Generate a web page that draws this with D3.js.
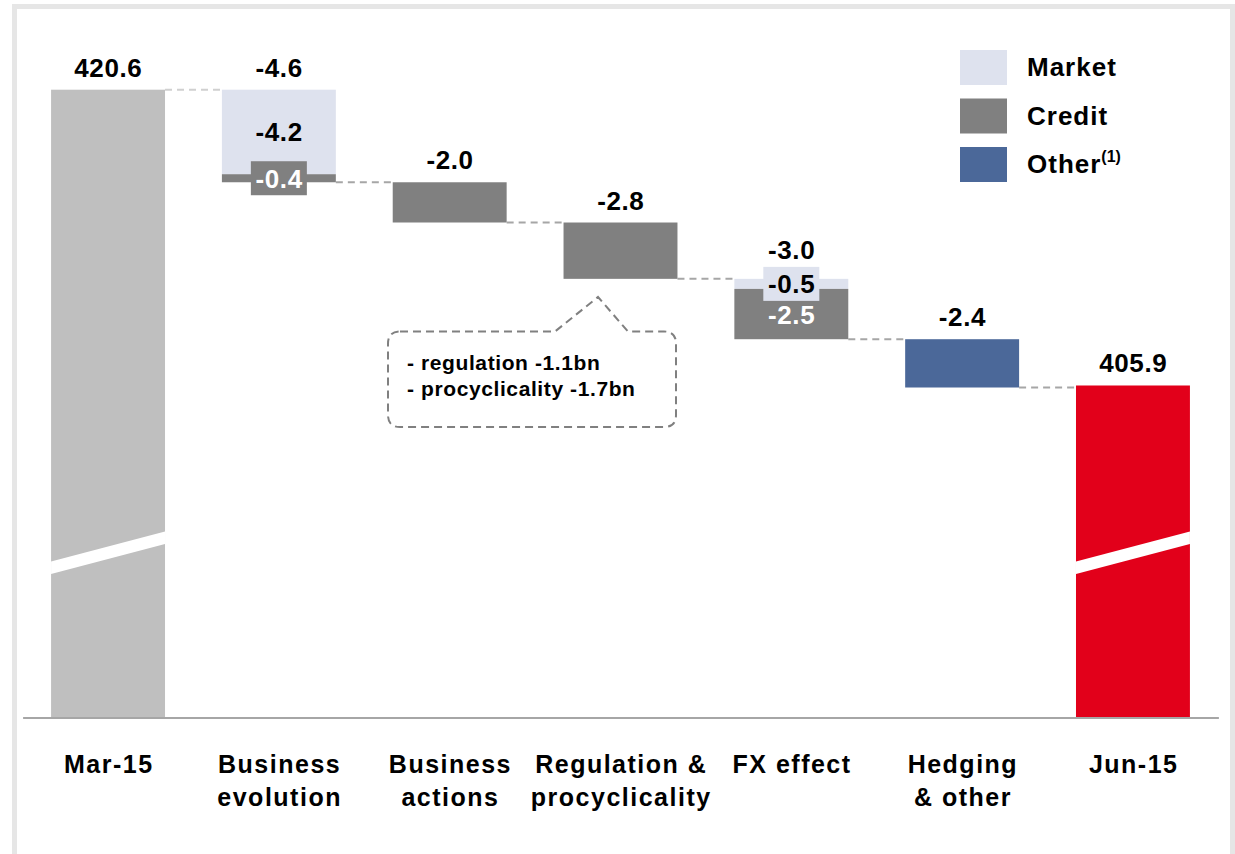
<!DOCTYPE html>
<html>
<head>
<meta charset="utf-8">
<script src="https://cdn.jsdelivr.net/npm/d3@7"></script>
<style>
  html, body { margin: 0; padding: 0; background: #ffffff; }
  svg { display: block; font-family: "Liberation Sans", Arial, sans-serif; font-weight: bold; }
</style>
</head>
<body>
<svg id="chart" width="1235" height="854"></svg>
<script>
// ---------------- data ----------------
const categories = ["Mar-15", "Business evolution", "Business actions", "Regulation & procyclicality", "FX effect", "Hedging & other", "Jun-15"];
const categoryLines = [["Mar-15"], ["Business", "evolution"], ["Business", "actions"], ["Regulation &", "procyclicality"], ["FX effect"], ["Hedging", "& other"], ["Jun-15"]];
const totals = [420.6, null, null, null, null, null, 405.9];
const marketValues = [0, -4.2, 0, 0, -0.5, 0, 0];
const creditValues = [0, -0.4, -2.0, -2.8, -2.5, 0, 0];
const otherValues = [0, 0, 0, 0, 0, -2.4, 0];
const deltaLabels = [null, "-4.6", "-2.0", "-2.8", "-3.0", "-2.4", null];
const seriesNames = ["Market", "Credit", "Other"];
const calloutLines = ["- regulation -1.1bn", "- procyclicality -1.7bn"];
const axisMin = 389.4;

// ---------------- styling ----------------
const colors = { Market: "#dee2ee", Credit: "#808080", Other: "#4b6899" };
const totalColors = ["#bfbfbf", "#e2001a"];

const svg = d3.select("#chart");

// frame
svg.append("rect").attr("x", 14.5).attr("y", 6.5).attr("width", 1218).attr("height", 850)
  .attr("fill", "none").attr("stroke", "#e6e6e6").attr("stroke-width", 5);

const x = d3.scaleBand().domain(categories).range([22.6, 1218.4]).paddingInner(0.333).paddingOuter(0.1667);
const y = d3.scaleLinear().domain([axisMin, 420.6]).range([717.5, 89.7]);

// build segments
const segs = [];
const levels = [];
let level = totals[0];
categories.forEach((c, i) => {
  if (totals[i] !== null) {
    segs.push({ c, i, y0: axisMin, y1: totals[i], color: i === 0 ? totalColors[0] : totalColors[1], kind: "total", value: totals[i] });
    level = totals[i];
    levels.push({ i, top: totals[i], bottom: totals[i] });
  } else {
    const start = level;
    [["Market", marketValues[i]], ["Credit", creditValues[i]], ["Other", otherValues[i]]].forEach(([name, v]) => {
      if (v !== 0) {
        segs.push({ c, i, y0: level + v, y1: level, color: colors[name], kind: name, value: v });
        level += v;
      }
    });
    levels.push({ i, top: start, bottom: level });
  }
});

// connectors
const g = svg.append("g");
for (let k = 0; k < levels.length - 1; k++) {
  const a = levels[k], b = levels[k + 1];
  g.append("line")
    .attr("x1", x(categories[a.i]) + x.bandwidth()).attr("x2", x(categories[b.i]))
    .attr("y1", y(a.bottom)).attr("y2", y(a.bottom))
    .attr("stroke", k === 0 ? "#d0d0d0" : "#a6a6a6").attr("stroke-width", 2)
    .attr("stroke-dasharray", "7,5");
}

// bars
g.selectAll("rect.bar").data(segs).join("rect").attr("class", "bar")
  .attr("x", d => x(d.c)).attr("width", x.bandwidth())
  .attr("y", d => y(d.y1)).attr("height", d => y(d.y0) - y(d.y1))
  .attr("fill", d => d.color);

// axis break stripes on total bars
segs.filter(d => d.kind === "total").forEach(d => {
  const x0 = x(d.c), x1 = x0 + x.bandwidth();
  g.append("polygon")
    .attr("points", `${x0},561.5 ${x1},531.5 ${x1},544 ${x0},574`)
    .attr("fill", "#ffffff");
});

// axis
const axis = d3.axisBottom(x).tickSize(0).tickSizeOuter(0).tickFormat("");
const ax = svg.append("g").attr("transform", `translate(0,${y(axisMin)})`).call(axis);
ax.select(".domain").attr("stroke", "#a6a6a6").attr("stroke-width", 2);
ax.selectAll(".tick").each(function (d, i) {
  const t = d3.select(this).append("text").attr("fill", "#000").attr("text-anchor", "middle")
    .attr("font-size", 25).attr("font-weight", "bold").attr("font-family", "Liberation Sans, Arial, sans-serif")
    .attr("letter-spacing", 1.5);
  categoryLines[i].forEach((line, j) => {
    t.append("tspan").attr("x", 0.75).attr("y", 55 + j * 33).text(line);
  });
});

// value labels
const labelFont = 26;
function label(txt, cx, baseline, fill) {
  return g.append("text").attr("x", cx + 0.3).attr("y", baseline).attr("text-anchor", "middle")
    .attr("font-size", labelFont).attr("letter-spacing", 0.6).attr("fill", fill).text(txt);
}
// totals
segs.filter(d => d.kind === "total").forEach(d => {
  label(d.value.toFixed(1), x(d.c) + x.bandwidth() / 2, y(d.y1) - 13, "#000");
});
// segment labels
const boxTops = {};
segs.filter(d => d.kind !== "total").forEach(d => {
  const cx = x(d.c) + x.bandwidth() / 2;
  const h = y(d.y0) - y(d.y1);
  const cy = (y(d.y0) + y(d.y1)) / 2;
  const dark = d.kind !== "Market";
  const txt = d.value.toFixed(1);
  const hasSiblings = segs.filter(s => s.i === d.i).length > 1;
  if (!hasSiblings) return;
  if (h < 30) {
    const bw = 56, bh = 34;
    g.append("rect").attr("x", cx - bw / 2).attr("y", cy - bh / 2).attr("width", bw).attr("height", bh).attr("fill", d.color);
    label(txt, cx, cy + 9.5, dark ? "#fff" : "#000");
    boxTops[d.i] = Math.min(boxTops[d.i] ?? 1e9, cy - bh / 2);
  } else {
    label(txt, cx, cy + 9.5, dark ? "#fff" : "#000");
  }
});
// delta (total change) labels
levels.forEach((l, k) => {
  if (deltaLabels[l.i] === null) return;
  const cx = x(categories[l.i]) + x.bandwidth() / 2;
  let base = y(l.top) - 13;
  if (boxTops[l.i] !== undefined && boxTops[l.i] - 8 < base) base = boxTops[l.i] - 8;
  label(deltaLabels[l.i], cx, base, "#000");
});

// callout
const cg = svg.append("g");
const bx0 = 388, bx1 = 676, by0 = 331.5, by1 = 427, r = 12;
const px0 = 555, pxA = 598, pyA = 297, px1 = 628;
const path = `M${bx0 + r},${by0} L${px0},${by0} L${pxA},${pyA} L${px1},${by0} L${bx1 - r},${by0} Q${bx1},${by0} ${bx1},${by0 + r} L${bx1},${by1 - r} Q${bx1},${by1} ${bx1 - r},${by1} L${bx0 + r},${by1} Q${bx0},${by1} ${bx0},${by1 - r} L${bx0},${by0 + r} Q${bx0},${by0} ${bx0 + r},${by0} Z`;
cg.append("path").attr("d", path).attr("fill", "none").attr("stroke", "#808080").attr("stroke-width", 2).attr("stroke-dasharray", "8,5");
calloutLines.forEach((t, j) => {
  cg.append("text").attr("x", 407).attr("y", 370 + j * 26).attr("font-size", 21).attr("letter-spacing", 0.6).attr("fill", "#000").text(t);
});

// legend
const lg = svg.append("g");
seriesNames.forEach((n, j) => {
  const top = 50 + j * 48.5;
  lg.append("rect").attr("x", 960).attr("y", top).attr("width", 47).attr("height", 35).attr("fill", colors[n]);
  const t = lg.append("text").attr("x", 1027).attr("y", top + 26).attr("font-size", 26).attr("letter-spacing", 1).attr("fill", "#000").text(n);
  if (n === "Other") {
    t.append("tspan").attr("font-size", 16).attr("letter-spacing", 0).attr("dy", -11).text("(1)");
  }
});
</script>
</body>
</html>
